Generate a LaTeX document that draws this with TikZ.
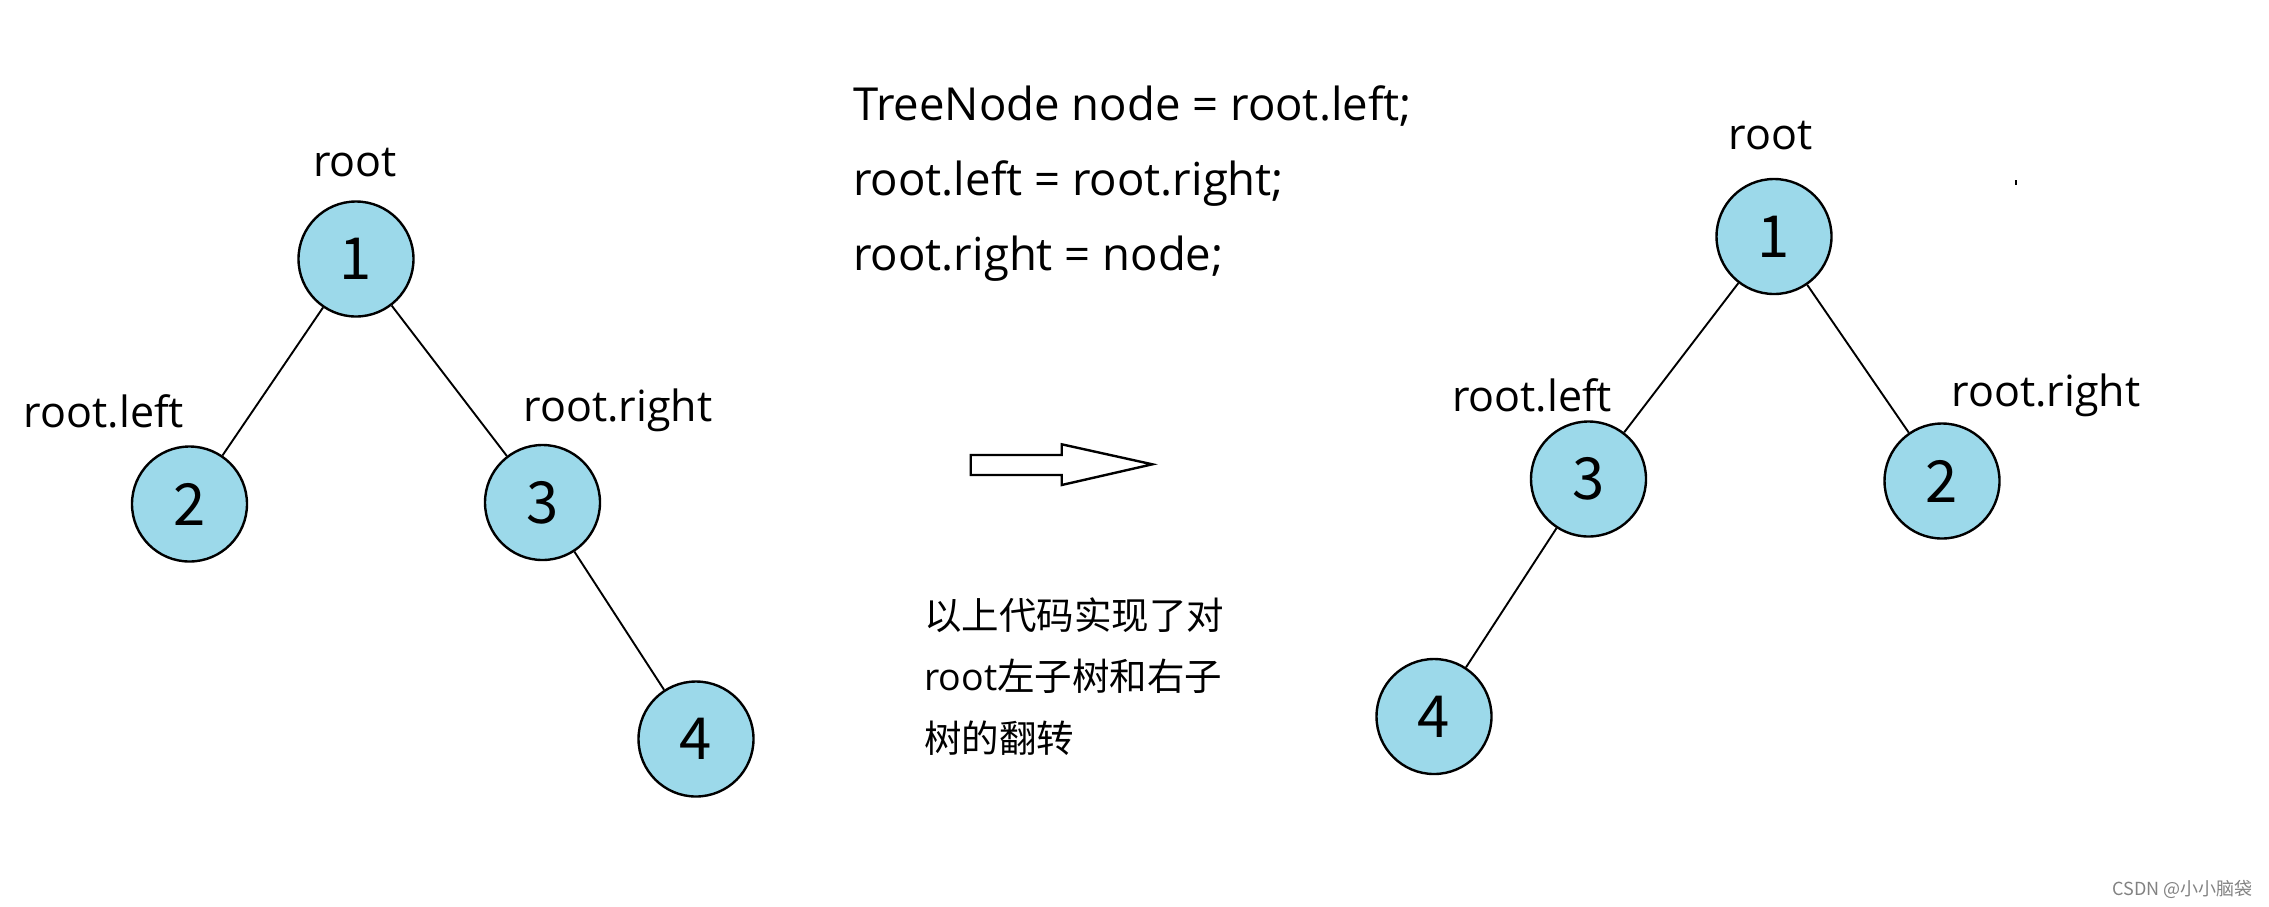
\documentclass[tikz,border=0pt]{standalone}
\usepackage{fontspec}
\setmainfont{Open Sans}
\newfontfamily\cjk{Noto Sans CJK SC}
\definecolor{nodeblue}{RGB}{156,217,234}
\definecolor{wmgray}{RGB}{130,130,130}
\begin{document}
\begin{tikzpicture}[x=1pt,y=-1pt,
  tn/.style={circle, draw=black, line width=2.4pt, fill=nodeblue, minimum size=115pt, inner sep=0pt,
    font=\cjk\fontsize{58}{58}\selectfont},
  lbl/.style={font=\fontsize{43}{50}\selectfont, inner sep=0pt, anchor=base},
  code/.style={font=\fontsize{45.5}{50}\selectfont, inner sep=0pt, anchor=base west},
  note/.style={font=\fontsize{37.5}{62}\selectfont, inner sep=0pt, anchor=base west},
  edge/.style={line width=1.9pt},
  bigarrow/.style={draw=black, line width=2.4pt, fill=white, line join=miter}]
\useasboundingbox (0,0) rectangle (2269,906);

% ---- left tree ----
\node[tn] (n1) at (356,259) {1};
\node[tn] (n2) at (189.5,504) {2};
\node[tn] (n3) at (542.5,502.5) {3};
\node[tn] (n4) at (696,739) {4};
\draw[edge] (n1) -- (n2);
\draw[edge] (n1) -- (n3);
\draw[edge] (n3) -- (n4);
\node[lbl] (lroot) at (355,176) {root};
\node[lbl] (lleft) at (104,427) {root.left};
\node[lbl] (lright) at (618,421) {root.right};

% ---- code ----
\node[code] (c1) at (853,120) {TreeNode node = root.left;};
\node[code] (c2) at (853,195) {root.left = root.right;};
\node[code] (c3) at (853,270) {root.right = node;};

% ---- arrow ----
\draw[bigarrow] (970.7,455) -- (1061.7,455) -- (1061.7,444.3) -- (1152.3,464.3)
  -- (1061.7,485) -- (1061.7,475) -- (970.7,475) -- cycle;

% ---- note ----
\node[note] (t1) at (924,629) {\cjk 以上代码实现了对};
\node[note] (t2) at (924,690) {root{\cjk 左子树和右子}};
\node[note] (t3) at (924,752) {\cjk 树的翻转};

% ---- right tree ----
\node[tn] (m1) at (1774,236.5) {1};
\node[tn] (m3) at (1588.5,479) {3};
\node[tn] (m2) at (1942,481) {2};
\node[tn] (m4) at (1434,716.5) {4};
\draw[edge] (m1) -- (m3);
\draw[edge] (m1) -- (m2);
\draw[edge] (m3) -- (m4);
\node[lbl] (rroot) at (1770.5,149) {root};
\node[lbl] (rleft) at (1532,411) {root.left};
\node[lbl] (rright) at (2046,406) {root.right};

\fill[black] (2014.8,180) rectangle (2017.2,185);

% ---- watermark ----
\node[font=\cjk\fontsize{18}{20}\selectfont, text=wmgray, inner sep=0pt, anchor=base east] (wm) at (2253,895) {CSDN @小小脑袋};
\end{tikzpicture}
\end{document}
